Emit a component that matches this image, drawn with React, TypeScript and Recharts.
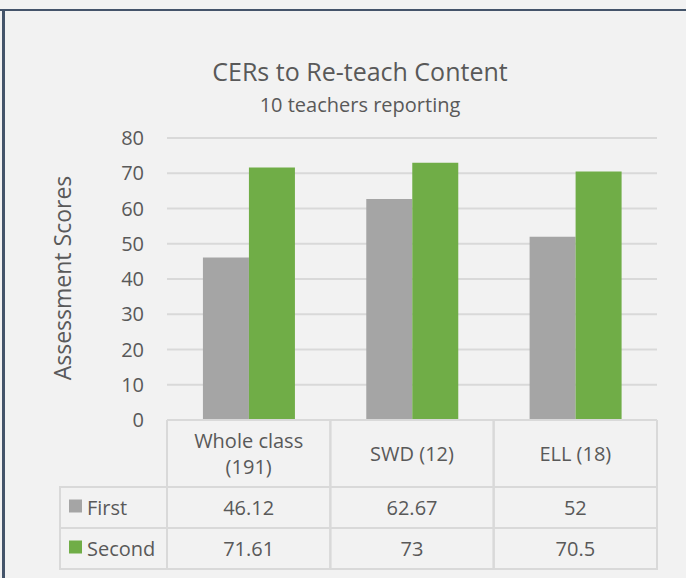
import { BarChart, Bar, XAxis, YAxis, CartesianGrid, Label } from 'recharts'

const categories = ['Whole class (191)', 'SWD (12)', 'ELL (18)']
const categoryLines = [['Whole class', '(191)'], ['SWD (12)'], ['ELL (18)']]
const firstScores = [46.12, 62.67, 52]
const secondScores = [71.61, 73, 70.5]
const seriesNames = ['First', 'Second']
const yTicks = [0, 10, 20, 30, 40, 50, 60, 70, 80]

const data = categories.map((name, i) => ({
  name,
  first: firstScores[i],
  second: secondScores[i],
}))

const FONT = '"Open Sans", sans-serif'
const TEXT = '#595959'
const GRID = '#d9d9d9'
const GRAY = '#a5a5a5'
const GREEN = '#70ad47'

const WIDTH = 686
const HEIGHT = 578
const margin = { top: 138, right: 29, left: 0, bottom: 9 }
const yAxisWidth = 167
const cellWidth = (WIDTH - margin.left - margin.right - yAxisWidth) / categories.length
const headerHeight = 67
const rowHeight = 41
const legendLeft = 60
const tableFont = 20

const HeaderTick = (props: any) => {
  const { x, y, payload } = props
  const lines = categoryLines[payload.index] || [payload.value]
  const half = cellWidth / 2
  const mid = y + headerHeight / 2
  const lineH = 26
  const startY = mid - ((lines.length - 1) * lineH) / 2 + 7
  return (
    <g>
      <line x1={x - half} y1={y} x2={x - half} y2={y + headerHeight} stroke={GRID} strokeWidth={2} />
      <line x1={x + half} y1={y} x2={x + half} y2={y + headerHeight} stroke={GRID} strokeWidth={2} />
      <text textAnchor="middle" fill={TEXT} fontSize={tableFont} fontFamily={FONT}>
        {lines.map((l, i) => (
          <tspan key={i} x={x} y={startY + i * lineH}>
            {l}
          </tspan>
        ))}
      </text>
    </g>
  )
}

const makeRowTick = (values: number[], seriesIndex: number) => (props: any) => {
  const { x, y, payload } = props
  const half = cellWidth / 2
  const idx = payload.index
  const color = seriesIndex === 0 ? GRAY : GREEN
  return (
    <g>
      <rect x={x - half} y={y} width={cellWidth} height={rowHeight} fill="none" stroke={GRID} strokeWidth={2} />
      {idx === 0 && (
        <g>
          <rect x={legendLeft} y={y} width={x - half - legendLeft} height={rowHeight} fill="none" stroke={GRID} strokeWidth={2} />
          <rect x={legendLeft + 9} y={y + rowHeight / 2 - 8} width={13} height={13} fill={color} />
          <text x={legendLeft + 27} y={y + rowHeight / 2 + 7} fill={TEXT} fontSize={tableFont} fontFamily={FONT}>
            {seriesNames[seriesIndex]}
          </text>
        </g>
      )}
      <text x={x} y={y + rowHeight / 2 + 7} textAnchor="middle" fill={TEXT} fontSize={tableFont} fontFamily={FONT}>
        {values[idx]}
      </text>
    </g>
  )
}

const FirstTick = makeRowTick(firstScores, 0)
const SecondTick = makeRowTick(secondScores, 1)

export default function App() {
  return (
    <div
      style={{
        position: 'absolute',
        left: 0,
        top: 0,
        width: WIDTH,
        height: HEIGHT,
        background: '#f2f2f2',
        fontFamily: FONT,
        overflow: 'hidden',
      }}
    >
      <div style={{ position: 'absolute', left: 0, top: 9, width: WIDTH, height: 2, background: '#44546a' }} />
      <div style={{ position: 'absolute', left: 2, top: 9, width: 3, height: HEIGHT, background: '#44546a' }} />
      <div
        style={{
          position: 'absolute',
          left: 0,
          width: 720,
          top: 55,
          textAlign: 'center',
          color: TEXT,
          fontSize: 25,
          lineHeight: '32px',
        }}
      >
        CERs to Re-teach Content
      </div>
      <div
        style={{
          position: 'absolute',
          left: 0,
          width: 720,
          top: 91,
          textAlign: 'center',
          color: TEXT,
          fontSize: 20,
          lineHeight: '28px',
        }}
      >
        10 teachers reporting
      </div>
      <BarChart
        width={WIDTH}
        height={HEIGHT}
        data={data}
        margin={margin}
        barCategoryGap="22%"
        barGap={0}
        style={{ position: 'absolute', left: 0, top: 0 }}
      >
        <CartesianGrid vertical={false} stroke={GRID} strokeWidth={2} />
        <YAxis
          width={yAxisWidth}
          domain={[0, 80]}
          ticks={yTicks}
          interval={0}
          axisLine={false}
          tickLine={false}
          tickSize={0}
          tickMargin={23}
          tick={{ fill: TEXT, fontSize: 20, fontFamily: FONT }}
        >
          <Label
            content={() => (
              <text
                x={62}
                y={278}
                transform="rotate(-90 62 278)"
                textAnchor="middle"
                dominantBaseline="central"
                fill={TEXT}
                fontSize={23}
                fontFamily={FONT}
              >
                Assessment Scores
              </text>
            )}
          />
        </YAxis>
        <XAxis
          dataKey="name"
          height={headerHeight}
          axisLine={{ stroke: GRID, strokeWidth: 2 }}
          tickLine={false}
          tickSize={0}
          tickMargin={0}
          interval={0}
          tick={<HeaderTick />}
        />
        <XAxis
          xAxisId="first"
          dataKey="name"
          height={rowHeight}
          axisLine={false}
          tickLine={false}
          tickSize={0}
          tickMargin={0}
          interval={0}
          tick={<FirstTick />}
        />
        <XAxis
          xAxisId="second"
          dataKey="name"
          height={rowHeight}
          axisLine={false}
          tickLine={false}
          tickSize={0}
          tickMargin={0}
          interval={0}
          tick={<SecondTick />}
        />
        <Bar dataKey="first" name="First" fill={GRAY} isAnimationActive={false} />
        <Bar dataKey="second" name="Second" fill={GREEN} isAnimationActive={false} />
      </BarChart>
    </div>
  )
}
